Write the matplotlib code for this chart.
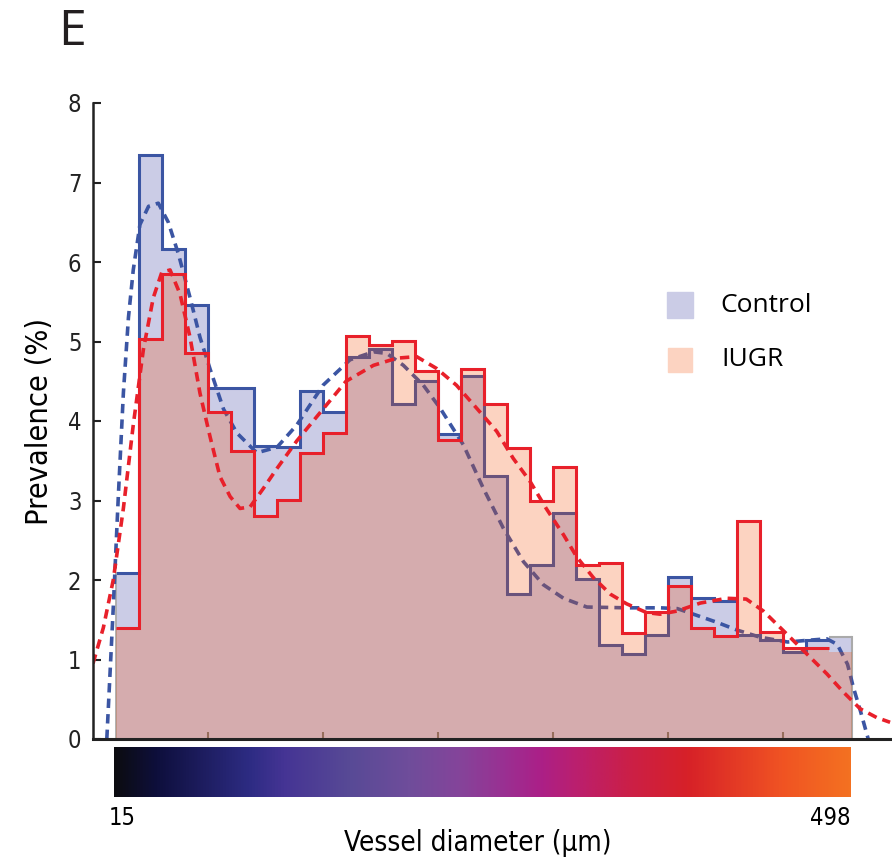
import numpy as np
import matplotlib
matplotlib.use("Agg")
import matplotlib.pyplot as plt
from matplotlib.colors import LinearSegmentedColormap
from matplotlib.patches import Rectangle

# histogram bins (vessel diameter, um)
bin_edges = np.arange(15, 496, 15)
control = [2.09, 7.34, 6.16, 5.46, 4.42, 4.41, 3.68, 3.67, 4.38, 4.11, 4.81, 4.91,
           4.21, 4.50, 3.84, 4.56, 3.31, 1.82, 2.19, 2.84, 2.01, 1.18, 1.07, 1.31,
           2.04, 1.77, 1.73, 1.31, 1.24, 1.10, 1.25, 1.28]
iugr = [1.39, 5.03, 5.85, 4.86, 4.11, 3.62, 2.80, 3.01, 3.60, 3.85, 5.07, 4.95,
        5.01, 4.63, 3.76, 4.66, 4.21, 3.66, 3.00, 3.42, 2.19, 2.21, 1.33, 1.60,
        1.92, 1.40, 1.29, 2.74, 1.35, 1.15, 1.14, 1.10]

# fitted curves
control_fit_x = [9, 13.2, 16.5, 19.8, 23.1, 26.25, 30.6, 36.2, 42.6, 49.1, 55.7, 63.3,
                 69.8, 76.4, 85.1, 93.8, 106.8, 120, 132.9, 150, 167.6, 182.9, 191.6,
                 202.4, 215.4, 226.4, 241.5, 254.6, 267.6, 280.7, 293.7, 306.8, 322,
                 348, 369.8, 381, 391.5, 406.5, 420, 435, 453, 465, 478.5, 485.3, 492,
                 495.8, 500.3, 505.5]
control_fit_y = [0, 1.65, 3.05, 4.35, 5.3, 5.9, 6.47, 6.70, 6.74, 6.5, 6.1, 5.55,
                 5.05, 4.65, 4.15, 3.85, 3.60, 3.67, 3.95, 4.45, 4.77, 4.87, 4.85,
                 4.70, 4.45, 4.16, 3.70, 3.15, 2.65, 2.23, 1.94, 1.77, 1.66,
                 1.65, 1.65, 1.64, 1.57, 1.47, 1.37, 1.28, 1.22, 1.24, 1.26, 1.19, 0.94,
                 0.65, 0.36, 0.0]
iugr_fit_x = [0, 6.75, 13.2, 19.8, 26.25, 32.85, 39.3, 44.85, 50.25, 56.7, 63.3, 69.75,
              76.35, 82.8, 89.4, 95.85, 102.45, 111, 119.85, 132.9, 150, 165, 182.85,
              198, 211, 224.1, 237, 250.2, 263.25, 274, 285, 295.5, 306.75, 315.45,
              326.25, 337.5, 348, 361, 369.75, 381, 396, 413.25, 426, 437.1, 452.4,
              465.45, 478.5, 489.3, 500.25, 511, 519.75]
iugr_fit_y = [0.95, 1.40, 2.0, 2.9, 3.95, 4.9, 5.55, 5.87, 5.9, 5.6, 5.05, 4.35,
              3.8, 3.3, 3.05, 2.9, 2.92, 3.15, 3.4, 3.75, 4.15, 4.5, 4.70,
              4.79, 4.81, 4.66, 4.45, 4.16, 3.87, 3.53, 3.24, 2.90, 2.57, 2.29,
              2.03, 1.82, 1.70, 1.59, 1.57, 1.61, 1.71, 1.77, 1.76, 1.61, 1.32,
              1.07, 0.82, 0.59, 0.38, 0.27, 0.21]

x_ticks = [75, 150, 225, 300, 375, 450]
y_ticks = [0, 1, 2, 3, 4, 5, 6, 7, 8]

# colour bar under the axis
cbar_stops = [(0.0, '#0c0c10'), (0.058, '#0e0f3d'), (0.185, '#2e2c84'), (0.23, '#453494'),
              (0.32, '#584a96'), (0.40, '#6f4d9b'), (0.47, '#85449a'), (0.53, '#9a3092'),
              (0.578, '#ab2088'), (0.628, '#bb1f6e'), (0.705, '#cc1f45'), (0.78, '#d72128'),
              (0.908, '#f05323'), (1.0, '#f47121')]

blue = '#3b55a3'
red = '#e8202a'
lavender = '#cbcce6'
peach = '#fcd3c1'

cond = dict(fontfamily='DejaVu Sans', fontstretch='condensed')
regular = ['Open Sans', 'DejaVu Sans']

fig = plt.figure(figsize=(8.92, 8.64), dpi=100)
ax = fig.add_axes([92.5 / 892, 125 / 864, 799.5 / 892, 636 / 864])

control = np.array(control)
iugr = np.array(iugr)

# control histogram: fill + outline
ax.stairs(control, bin_edges, fill=True, color=lavender, zorder=1)
ax.stairs(control[:31], bin_edges[:32], baseline=None, color=blue, lw=2.2, zorder=2)
ax.stairs(control[31:], bin_edges[31:], baseline=None, color='#aaaaaa', lw=1.5, zorder=2)
ax.plot([bin_edges[-1]] * 2, [0, control[-1]], color='#aaaaaa', lw=1.5, zorder=2)
ax.plot([bin_edges[0]] * 2, [0, control[0]], color='#aaaaaa', lw=1.3, zorder=2)
ax.plot(control_fit_x, control_fit_y, color=blue, lw=2.6, dashes=(2.6, 1.7), zorder=2)

# IUGR fill laid over it (acts like a multiply blend)
ax.stairs(iugr, bin_edges, fill=True, color='#f4500a', alpha=0.25, lw=0, zorder=3)
ax.stairs(iugr[:31], bin_edges[:32], baseline=None, color=red, lw=2.2, zorder=4)
ax.plot(iugr_fit_x, iugr_fit_y, color=red, lw=2.6, dashes=(2.6, 1.7), zorder=5)

ax.set_xlim(-0.33, 521)
ax.set_ylim(0, 8)
ax.spines['top'].set_visible(False)
ax.spines['right'].set_visible(False)
ax.spines['left'].set_linewidth(1.8)
ax.spines['bottom'].set_linewidth(2.2)
ax.spines['left'].set_color('#222222')
ax.spines['bottom'].set_color('#222222')
ax.spines['left'].set_zorder(6)
ax.spines['bottom'].set_zorder(6)

ax.set_yticks(y_ticks)
ax.set_yticklabels([str(t) for t in y_ticks], fontsize=17, **cond)
ax.tick_params(axis='y', direction='in', length=6, width=1.5, pad=8, colors='#222222')
ax.set_xticks(x_ticks)
ax.set_xticklabels([])
ax.tick_params(axis='x', direction='in', length=5, width=1.5, color='#777777')

ax.set_ylabel('Prevalence (%)', fontsize=22, labelpad=10, **cond)

# legend
fig.patches.append(Rectangle((667 / 892, 1 - 318 / 864), 26 / 892, 26 / 864,
                             transform=fig.transFigure, color=lavender))
fig.patches.append(Rectangle((668 / 892, 1 - 372 / 864), 24 / 892, 24 / 864,
                             transform=fig.transFigure, color=peach))
fig.text(720 / 892, 1 - 305 / 864, 'Control', fontfamily=regular, fontsize=19,
         va='center', ha='left')
fig.text(721 / 892, 1 - 359 / 864, 'IUGR', fontfamily=regular, fontsize=19,
         va='center', ha='left')

# panel letter
fig.text(58 / 892, 1 - 32 / 864, 'E', fontfamily=regular, fontsize=36,
         va='center', ha='left', color='#231f20')

# colour bar
cmap = LinearSegmentedColormap.from_list('vessel', cbar_stops)
cax = fig.add_axes([114 / 892, 67 / 864, 737 / 892, 50 / 864])
cax.imshow(np.linspace(0, 1, 512)[None, :], aspect='auto', cmap=cmap,
           extent=[15, 498, 0, 1])
cax.axis('off')
fig.text(122 / 892, 1 - 818 / 864, '15', fontsize=17, ha='center', va='center', **cond)
fig.text(830 / 892, 1 - 818 / 864, '498', fontsize=17, ha='center', va='center', **cond)
fig.text(478 / 892, 1 - 843 / 864, 'Vessel diameter (\u03bcm)', fontsize=20,
         ha='center', va='center', **cond)

fig.savefig('out.png', dpi=100)
